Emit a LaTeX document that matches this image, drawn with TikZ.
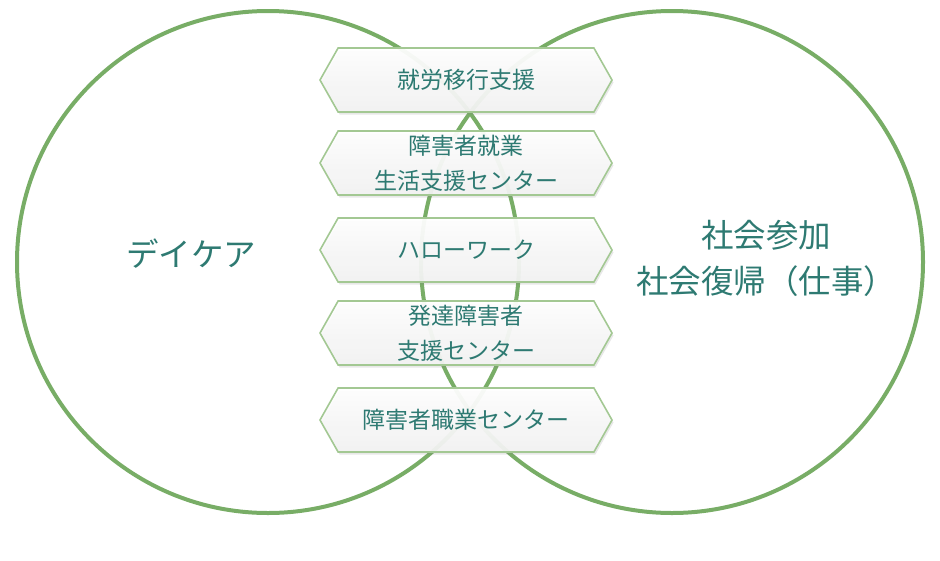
\documentclass[tikz,border=0pt]{standalone}
\usepackage{fontspec}
\setmainfont{Noto Sans CJK JP}
\usetikzlibrary{shapes.symbols, shadows}
\usepackage{xcolor}
\definecolor{ringgreen}{HTML}{78AD66}
\definecolor{hexedge}{HTML}{A3C893}
\definecolor{labelteal}{HTML}{2E7A72}

\begin{document}
\begin{tikzpicture}[x=1pt, y=-1pt,
        ring/.style={draw=ringgreen, line width=4pt},
        hexbox/.style={signal, signal to=west and east, signal pointer angle=121,
            draw=hexedge, line width=1.6pt, minimum width=292pt, minimum height=64pt,
            top color=white, bottom color=black!5, fill opacity=0.94, text opacity=1,
            drop shadow={opacity=0.18, shadow xshift=1.5pt, shadow yshift=-2.5pt},
            text=labelteal, font=\fontsize{23}{35}\selectfont, align=center, inner sep=0pt},
        biglabel/.style={text=labelteal, font=\fontsize{32.5}{46}\selectfont, align=center}]
        \useasboundingbox (0, 0) rectangle (940, 560);

        \draw[ring] (268, 262) circle[radius=251];
        \draw[ring] (672, 262) circle[radius=251];

        \node[biglabel] (daycare) at (191, 254) {デイケア};
        \node[biglabel] (social) at (766, 258) {社会参加\\社会復帰（仕事）};

        \node[hexbox] (shuro) at (466, 80) {就労移行支援};
        \node[hexbox] (seikatsu) at (466, 163) {障害者就業\\生活支援センター};
        \node[hexbox] (hellowork) at (466, 250) {ハローワーク};
        \node[hexbox] (hattatsu) at (466, 333) {発達障害者\\支援センター};
        \node[hexbox] (shokugyo) at (466, 420) {障害者職業センター};
    \end{tikzpicture}
\end{document}
